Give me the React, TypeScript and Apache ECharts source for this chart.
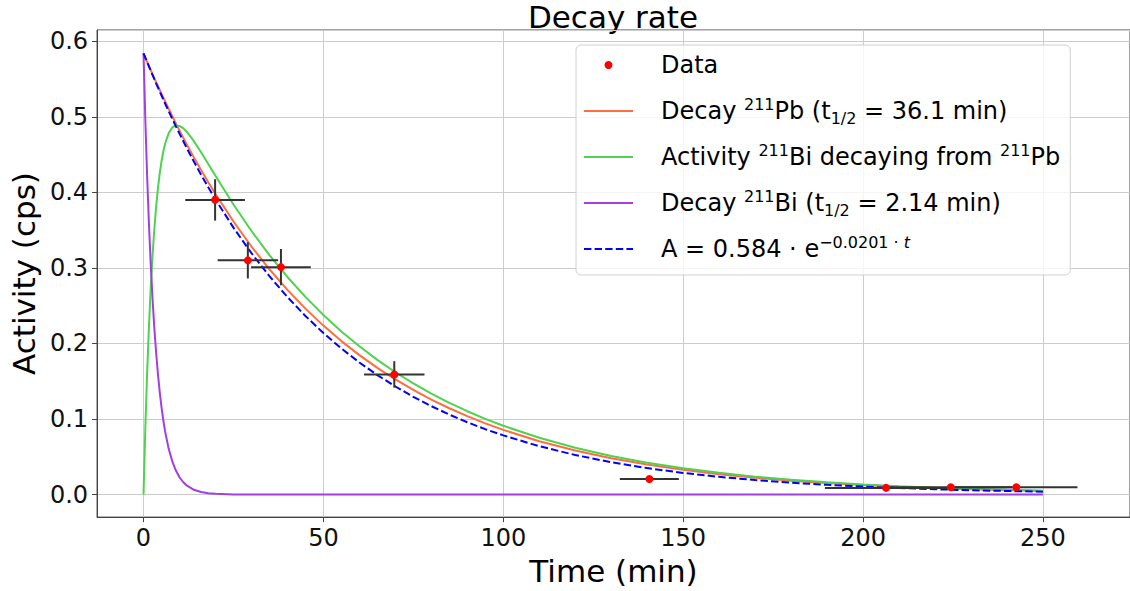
import React, { useEffect, useRef } from 'react';
import * as echarts from 'echarts';

// Time grid (min) on which the model curves are sampled
const timeGrid = [0, 0.5, 1, 1.5, 2, 2.5, 3, 3.5, 4, 4.5, 5, 5.5, 6, 7, 8, 9, 10, 11, 12, 14, 16, 18, 20, 25, 30, 35, 40, 45, 50, 55, 60, 65, 70, 75, 80, 85, 90, 95, 100, 110, 120, 130, 140, 150, 160, 170, 180, 190, 200, 210, 220, 230, 240, 250];

// Decay 211Pb (t1/2 = 36.1 min)
const pbDecay = [0.584, 0.5784, 0.5729, 0.5674, 0.562, 0.5566, 0.5513, 0.546, 0.5408, 0.5357, 0.5305, 0.5255, 0.5205, 0.5106, 0.5008, 0.4913, 0.482, 0.4728, 0.4638, 0.4463, 0.4295, 0.4134, 0.3978, 0.3614, 0.3283, 0.2982, 0.2709, 0.2461, 0.2236, 0.2031, 0.1845, 0.1676, 0.1523, 0.1384, 0.1257, 0.1142, 0.1037, 0.0942, 0.0856, 0.0706, 0.0583, 0.0481, 0.0397, 0.0328, 0.027, 0.0223, 0.0184, 0.0152, 0.0125, 0.0104, 0.0085, 0.0071, 0.0058, 0.0048];

// Activity 211Bi decaying from 211Pb
const biFromPb = [0, 0.0869, 0.16, 0.2213, 0.2726, 0.3155, 0.3511, 0.3806, 0.405, 0.4249, 0.4411, 0.454, 0.4643, 0.4784, 0.4859, 0.4886, 0.488, 0.485, 0.4803, 0.4678, 0.4531, 0.4376, 0.4219, 0.3839, 0.3489, 0.317, 0.288, 0.2616, 0.2377, 0.2159, 0.1962, 0.1782, 0.1619, 0.1471, 0.1336, 0.1214, 0.1103, 0.1002, 0.091, 0.0751, 0.062, 0.0511, 0.0422, 0.0348, 0.0287, 0.0237, 0.0196, 0.0162, 0.0133, 0.011, 0.0091, 0.0075, 0.0062, 0.0051];

// Decay 211Bi (t1/2 = 2.14 min)
const biDecay = [0.584, 0.4967, 0.4224, 0.3593, 0.3055, 0.2599, 0.221, 0.188, 0.1599, 0.136, 0.1156, 0.0983, 0.0836, 0.0605, 0.0438, 0.0317, 0.0229, 0.0166, 0.012, 0.0063, 0.0033, 0.0017, 0.0009, 0.0002, 0, 0, 0, 0, 0, 0, 0, 0, 0, 0, 0, 0, 0, 0, 0, 0, 0, 0, 0, 0, 0, 0, 0, 0, 0, 0, 0, 0, 0, 0];

// Fit A = 0.584 * exp(-0.0201 t)
const fitCurve = [0.584, 0.5782, 0.5724, 0.5667, 0.561, 0.5554, 0.5498, 0.5443, 0.5389, 0.5335, 0.5282, 0.5229, 0.5176, 0.5073, 0.4973, 0.4874, 0.4777, 0.4682, 0.4588, 0.4408, 0.4234, 0.4067, 0.3907, 0.3533, 0.3195, 0.289, 0.2614, 0.2364, 0.2138, 0.1933, 0.1748, 0.1581, 0.143, 0.1293, 0.117, 0.1058, 0.0957, 0.0865, 0.0783, 0.064, 0.0523, 0.0428, 0.035, 0.0286, 0.0234, 0.0192, 0.0157, 0.0128, 0.0105, 0.0086, 0.007, 0.0057, 0.0047, 0.0038];

// Measured data with errors
const dataTime = [19.9, 29.0, 38.2, 69.7, 140.6, 206.4, 224.4, 242.6];
const dataActivity = [0.39, 0.31, 0.301, 0.159, 0.0205, 0.0088, 0.0096, 0.0097];
const timeErr = [8.3, 8.4, 8.3, 8.4, 8.2, 17, 17, 17];
const activityErr = [0.0274, 0.024, 0.024, 0.0175, 0.002, 0.001, 0.001, 0.001];

const xTickValues = [0, 50, 100, 150, 200, 250];

const NAME_DATA = 'Data';
const NAME_PB = 'Decay 211Pb (t1/2 = 36.1 min)';
const NAME_BIPB = 'Activity 211Bi decaying from 211Pb';
const NAME_BI = 'Decay 211Bi (t1/2 = 2.14 min)';
const NAME_FIT = 'A = 0.584 · e^(−0.0201 · t)';

const legendRich: Record<string, string> = {
  [NAME_DATA]: 'Data',
  [NAME_PB]: 'Decay {sup|211}Pb (t{sub|1/2} = 36.1 min)',
  [NAME_BIPB]: 'Activity {sup|211}Bi decaying from {sup|211}Pb',
  [NAME_BI]: 'Decay {sup|211}Bi (t{sub|1/2} = 2.14 min)',
  [NAME_FIT]: 'A = 0.584 · e{sup|−0.0201 · }{supi|t}',
};

const SOLID_ICON = 'path://M0,0H49V2H0Z';
const DASHED_ICON =
  'path://M0,0H7.4V2H0Z M10.6,0H18V2H10.6Z M21.2,0H28.6V2H21.2Z M31.8,0H39.2V2H31.8Z M42.4,0H49V2H42.4Z';

export default function App() {
  const ref = useRef<HTMLDivElement>(null);

  useEffect(() => {
    if (!ref.current) return;
    const chart = echarts.init(ref.current, null, { renderer: 'svg' });
    const font = 'DejaVu Sans';
    const zip = (xs: number[], ys: number[]) => xs.map((x, i) => [x, ys[i]]);
    const lineSeries = (name: string, values: number[], color: string, dashed = false, z = 2) => ({
      type: 'line',
      name,
      data: zip(timeGrid, values),
      symbol: 'none',
      showSymbol: false,
      silent: true,
      z,
      lineStyle: { color, width: 2, type: dashed ? [7.4, 3.2] : 'solid' },
      itemStyle: { color },
    });

    const supStyle = { fontSize: 16, lineHeight: 18, verticalAlign: 'top', fontFamily: font, color: '#000' };

    const option: any = {
      animation: false,
      backgroundColor: '#ffffff',
      graphic: [
        {
          type: 'text',
          x: 613,
          y: 17,
          style: {
            text: 'Decay rate',
            fontSize: 31,
            fontFamily: font,
            fill: '#000',
            align: 'center',
            verticalAlign: 'middle',
          },
        },
      ],
      grid: {
        left: 96,
        top: 30,
        right: 0,
        bottom: 71,
        show: true,
        borderColor: '#444',
        borderWidth: 1,
        backgroundColor: 'transparent',
      },
      xAxis: {
        type: 'value',
        min: -12.91,
        max: 274.2,
        name: 'Time (min)',
        nameLocation: 'middle',
        nameGap: 33,
        nameTextStyle: { fontSize: 31, fontFamily: font, color: '#000' },
        axisLine: { show: true, onZero: false, lineStyle: { color: '#444', width: 1 } },
        axisTick: { show: true, length: 5, lineStyle: { color: '#444' }, customValues: xTickValues },
        axisLabel: {
          fontSize: 24,
          fontFamily: font,
          color: '#111',
          margin: 9,
          customValues: xTickValues,
        },
        splitLine: { show: true, lineStyle: { color: '#cccccc', width: 1 } },
      },
      yAxis: {
        type: 'value',
        min: -0.02987,
        max: 0.6149,
        name: 'Activity (cps)',
        nameLocation: 'middle',
        nameGap: 53,
        nameTextStyle: { fontSize: 31, fontFamily: font, color: '#000' },
        axisLine: { show: true, onZero: false, lineStyle: { color: '#444', width: 1 } },
        axisTick: { show: true, length: 5, lineStyle: { color: '#444' } },
        axisLabel: {
          fontSize: 24,
          fontFamily: font,
          color: '#111',
          margin: 9,
          showMinLabel: false,
          showMaxLabel: false,
          formatter: (v: number) => v.toFixed(1),
        },
        splitLine: { show: true, lineStyle: { color: '#cccccc', width: 1 } },
      },
      legend: {
        orient: 'vertical',
        left: 576,
        top: 45,
        padding: [5, 10, 11, 8],
        itemGap: 16,
        itemWidth: 49,
        itemHeight: 8,
        selectedMode: false,
        backgroundColor: 'rgba(255,255,255,0.8)',
        borderColor: '#d0d0d0',
        borderWidth: 1,
        borderRadius: 5,
        data: [
          { name: NAME_DATA, icon: 'circle', itemStyle: { color: '#ff0000', opacity: 1 } },
          { name: NAME_PB, icon: SOLID_ICON },
          { name: NAME_BIPB, icon: SOLID_ICON },
          { name: NAME_BI, icon: SOLID_ICON },
          { name: NAME_FIT, icon: DASHED_ICON },
        ],
        formatter: (n: string) => legendRich[n] ?? n,
        textStyle: {
          fontSize: 24,
          fontFamily: font,
          color: '#000',
          lineHeight: 30,
          padding: [0, 0, 0, 23],
          rich: {
            sup: supStyle,
            supi: { ...supStyle, fontStyle: 'italic' },
            sub: { ...supStyle, verticalAlign: 'bottom' },
          },
        },
      },
      series: [
        lineSeries(NAME_PB, pbDecay, '#ff6d3d', false, 2),
        lineSeries(NAME_BIPB, biFromPb, '#4fd24f', false, 2),
        lineSeries(NAME_BI, biDecay, '#a040e0', false, 2),
        lineSeries(NAME_FIT, fitCurve, '#0000ff', true, 3),
        {
          type: 'custom',
          name: 'errors',
          silent: true,
          z: 4,
          data: dataTime.map((t, i) => [t, dataActivity[i], timeErr[i], activityErr[i]]),
          encode: { x: 0, y: 1 },
          renderItem: (_params: any, api: any) => {
            const x = api.value(0);
            const y = api.value(1);
            const xe = api.value(2);
            const ye = api.value(3);
            const l = api.coord([x - xe, y]);
            const r = api.coord([x + xe, y]);
            const t = api.coord([x, y + ye]);
            const b = api.coord([x, y - ye]);
            const style = { stroke: '#333333', lineWidth: 2 };
            return {
              type: 'group',
              children: [
                { type: 'line', shape: { x1: l[0], y1: l[1], x2: r[0], y2: r[1] }, style },
                { type: 'line', shape: { x1: t[0], y1: t[1], x2: b[0], y2: b[1] }, style },
              ],
            };
          },
        },
        {
          type: 'scatter',
          name: NAME_DATA,
          z: 5,
          silent: true,
          symbol: 'circle',
          symbolSize: 8,
          itemStyle: { color: '#ff0000', opacity: 1 },
          data: zip(dataTime, dataActivity),
        },
      ],
    };

    chart.setOption(option);
    return () => chart.dispose();
  }, []);

  return (
    <div
      ref={ref}
      style={{ position: 'absolute', left: 0, top: 0, width: 1130, height: 591 }}
    />
  );
}
